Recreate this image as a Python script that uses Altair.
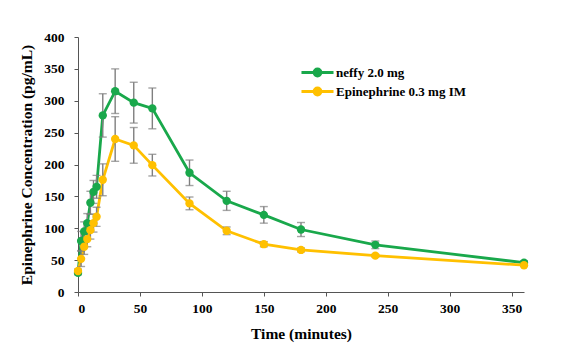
import altair as alt
import pandas as pd

times = [0, 2.5, 5, 7.5, 10, 12.5, 15, 20, 30, 45, 60, 90, 120, 150, 180, 240, 360]
neffy_mean = [30, 80, 95, 108, 140, 157, 165, 277, 315, 297, 288, 187, 143, 121, 98, 74, 46]
neffy_err = [3, 15, 15, 15, 18, 18, 18, 34, 35, 32, 32, 20, 15, 13, 11, 6, 3]
im_mean = [33, 52, 71, 83, 97, 108, 118, 176, 240, 230, 199, 139, 96, 75, 66, 57, 42]
im_err = [3, 12, 12, 12, 14, 14, 15, 25, 35, 28, 17, 10, 6, 4, 3, 2, 2]
series_names = ["neffy 2.0 mg", "Epinephrine 0.3 mg IM"]
series_colors = ["#19A84B", "#FFC000"]
x_ticks = [0, 50, 100, 150, 200, 250, 300, 350]
y_ticks = [0, 50, 100, 150, 200, 250, 300, 350, 400]

rows = []
for name, means, errs in [(series_names[0], neffy_mean, neffy_err), (series_names[1], im_mean, im_err)]:
    for t, m, e in zip(times, means, errs):
        rows.append({"series": name, "time": t, "value": m, "lo": m - e, "hi": m + e})
df = pd.DataFrame(rows)

FONT = "Liberation Serif"
scale = alt.Scale(domain=series_names, range=series_colors)
xaxis = alt.Axis(values=x_ticks, title="Time (minutes)", labelOverlap=False)
yaxis = alt.Axis(values=y_ticks, title="Epinephrine Concentration (pg/mL)", labelOverlap=False)
xs = alt.Scale(domain=[0, 360], nice=False)
ys = alt.Scale(domain=[0, 400], nice=False)

legend = alt.Legend(
    title=None, orient="none", legendX=232, legendY=28, direction="vertical",
    symbolType="M-2.67,0H2.67M-0.58,0A0.58,0.58 0 1,0 0.58,0A0.58,0.58 0 1,0 -0.58,0Z",
    symbolSize=144, symbolStrokeWidth=2.8, labelFont=FONT, labelFontSize=13,
    labelFontWeight="bold", labelColor="black", rowPadding=0, labelOffset=11,
)

base = alt.Chart(df)
lines = base.mark_line(strokeWidth=2.8).encode(
    x=alt.X("time:Q", scale=xs, axis=xaxis),
    y=alt.Y("value:Q", scale=ys, axis=yaxis),
    stroke=alt.Stroke("series:N", scale=scale, legend=legend),
    detail="series:N",
)
bars = base.mark_rule(color="#7f7f7f", strokeWidth=1.4).encode(
    x=alt.X("time:Q", scale=xs, axis=xaxis), y=alt.Y("lo:Q", scale=ys, axis=yaxis), y2="hi:Q")
cap_lo = base.mark_tick(color="#7f7f7f", orient="horizontal", size=8, thickness=1.4).encode(
    x=alt.X("time:Q", scale=xs, axis=xaxis), y=alt.Y("lo:Q", scale=ys, axis=yaxis))
cap_hi = base.mark_tick(color="#7f7f7f", orient="horizontal", size=8, thickness=1.4).encode(
    x=alt.X("time:Q", scale=xs, axis=xaxis), y=alt.Y("hi:Q", scale=ys, axis=yaxis))
points = base.mark_point(filled=True, size=70, opacity=1, strokeWidth=0).encode(
    x=alt.X("time:Q", scale=xs, axis=xaxis),
    y=alt.Y("value:Q", scale=ys, axis=yaxis),
    fill=alt.Fill("series:N", scale=scale, legend=legend),
    stroke=alt.Stroke("series:N", scale=scale, legend=legend),
)

chart = alt.layer(lines, bars, cap_lo, cap_hi, points).properties(
    width=446, height=255,
    autosize=alt.AutoSizeParams(type="none"),
    padding={"left": 78, "top": 37, "right": 51, "bottom": 64},
).configure_view(stroke=None).configure_axis(
    grid=False, domainColor="#555555", tickColor="#555555", tickSize=4,
    labelFont=FONT, labelFontSize=13.5, labelFontWeight="bold", labelColor="black",
    titleFont=FONT, titleFontSize=15.5, titleFontWeight="bold", titleColor="black",
).configure_axisX(labelPadding=5, titlePadding=12).configure_axisY(labelPadding=10, titlePadding=9)

chart.save("out.html", embed_options={"renderer": "svg", "actions": False})
